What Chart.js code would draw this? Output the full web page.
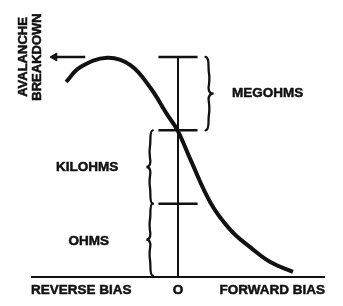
<!DOCTYPE html>
<html>
<head>
<meta charset="utf-8">
<script src="https://cdn.jsdelivr.net/npm/chart.js@4.4.1/dist/chart.umd.min.js"></script>
<style>
  html, body { margin: 0; padding: 0; background: #fff; }
  #wrap { width: 343px; height: 306px; position: relative; }
</style>
</head>
<body>
<div id="wrap"><canvas id="c"></canvas></div>
<script>
// Bias axis: -1 = reverse, 0 = zero bias, 1 = forward. Resistance levels 0..3.
const curveX = [-0.761, -0.666, -0.481, -0.324, -0.188, -0.072, -0.003, 0.085, 0.222, 0.358, 0.495, 0.631, 0.782];
const curveY = [2.66, 2.86, 2.99, 2.89, 2.58, 2.21, 2.00, 1.60, 1.01, 0.64, 0.40, 0.20, 0.07];
const levelValues = [1, 2, 3];           // OHMS/KILOHMS, KILOHMS/MEGOHMS, top
const tickHalfWidth = 0.133;
const arrowX = [-0.631, -0.84];
const arrowY = 3;
const bottomLabels = ["REVERSE BIAS", "O", "FORWARD BIAS"];
const rangeLabels = ["OHMS", "KILOHMS", "MEGOHMS"];
const sideLabel = ["AVALANCHE", "BREAKDOWN"];

const ink = '#111';

const datasets = [];
datasets.push({
  data: curveX.map((x, i) => ({ x, y: curveY[i] })),
  borderColor: ink, borderWidth: 4, tension: 0.4, pointRadius: 0, clip: false
});
datasets.push({
  data: [{ x: 0, y: 0 }, { x: 0, y: 3 }],
  borderColor: ink, borderWidth: 2, pointRadius: 0, clip: false
});
levelValues.forEach(v => datasets.push({
  data: [{ x: -tickHalfWidth, y: v }, { x: tickHalfWidth, y: v }],
  borderColor: ink, borderWidth: 2.5, pointRadius: 0, clip: false
}));
datasets.push({
  data: [{ x: -1, y: 0 }, { x: 1, y: 0 }],
  borderColor: ink, borderWidth: 2, pointRadius: 0, clip: false
});
datasets.push({
  data: arrowX.map(x => ({ x, y: arrowY })),
  borderColor: ink, borderWidth: 2.5, clip: false,
  pointRadius: [0, 4.5], pointStyle: 'triangle', rotation: -90,
  pointBackgroundColor: ink, pointBorderColor: ink, pointBorderWidth: 1
});

function brace(ctx, x, y1, y2, dir, depth) {
  // dir: +1 cusp to the right, -1 cusp to the left
  const ym = (y1 + y2) / 2;
  const q = depth;
  const r = Math.min(10, (y2 - y1) / 4);
  ctx.beginPath();
  ctx.moveTo(x - dir * q * 0.6, y1);
  ctx.quadraticCurveTo(x, y1, x, y1 + r);
  ctx.bezierCurveTo(x, y1 + 2 * r, x + dir * 2, ym - 2 * r, x, ym - r * 0.6);
  ctx.quadraticCurveTo(x, ym, x + dir * q, ym);
  ctx.quadraticCurveTo(x, ym, x, ym + r * 0.6);
  ctx.bezierCurveTo(x + dir * 2, ym + 2 * r, x, y2 - 2 * r, x, y2 - r);
  ctx.quadraticCurveTo(x, y2, x - dir * q * 0.6, y2);
  ctx.stroke();
}

function heavyText(ctx, t, x, y) {
  ctx.fillText(t, x, y);
  ctx.strokeText(t, x, y);
}

const decor = {
  id: 'decor',
  afterDatasetsDraw(chart) {
    const ctx = chart.ctx;
    const xs = chart.scales.x, ys = chart.scales.y;
    ctx.save();
    ctx.strokeStyle = ink;
    ctx.lineWidth = 2.3;
    ctx.lineCap = 'round';
    // braces
    const lx = xs.getPixelForValue(-0.188);
    brace(ctx, lx, ys.getPixelForValue(2), ys.getPixelForValue(1), -1, 4);
    brace(ctx, lx, ys.getPixelForValue(1), ys.getPixelForValue(0.02), -1, 4);
    const rx = xs.getPixelForValue(0.208);
    brace(ctx, rx, ys.getPixelForValue(3), ys.getPixelForValue(2), 1, 5);

    ctx.fillStyle = ink;
    ctx.lineWidth = 0.5;
    ctx.lineJoin = 'round';
    ctx.font = 'bold 13.5px "Liberation Sans", Arial, sans-serif';
    ctx.textBaseline = 'middle';
    ctx.textAlign = 'center';
    heavyText(ctx, rangeLabels[2], xs.getPixelForValue(0.61), ys.getPixelForValue(2.51));
    heavyText(ctx, rangeLabels[1], xs.getPixelForValue(-0.618), ys.getPixelForValue(1.5));
    heavyText(ctx, rangeLabels[0], xs.getPixelForValue(-0.607), ys.getPixelForValue(0.49));

    const by = chart.chartArea.bottom + 13;
    ctx.textAlign = 'left';
    heavyText(ctx, bottomLabels[0], xs.getPixelForValue(-1), by);
    ctx.textAlign = 'center';
    heavyText(ctx, bottomLabels[1], xs.getPixelForValue(0), by);
    ctx.textAlign = 'right';
    heavyText(ctx, bottomLabels[2], xs.getPixelForValue(1), by);

    // vertical side label
    ctx.font = 'bold 13px "Liberation Sans", Arial, sans-serif';
    ctx.textAlign = 'center';
    ctx.translate(23, 57);
    ctx.rotate(-Math.PI / 2);
    heavyText(ctx, sideLabel[0], 0, 0);
    heavyText(ctx, sideLabel[1], 0, 14);
    ctx.restore();
  }
};

new Chart(document.getElementById('c'), {
  type: 'scatter',
  data: { datasets: datasets.map(d => Object.assign({ showLine: true, fill: false }, d)) },
  options: {
    responsive: true,
    maintainAspectRatio: false,
    animation: false,
    events: [],
    layout: { padding: { left: 31, right: 18, top: 13, bottom: 29 } },
    plugins: { legend: { display: false }, tooltip: { enabled: false } },
    scales: {
      x: { type: 'linear', min: -1, max: 1, display: false },
      y: { type: 'linear', min: 0, max: 3.6, display: false }
    }
  },
  plugins: [decor]
});
</script>
</body>
</html>
